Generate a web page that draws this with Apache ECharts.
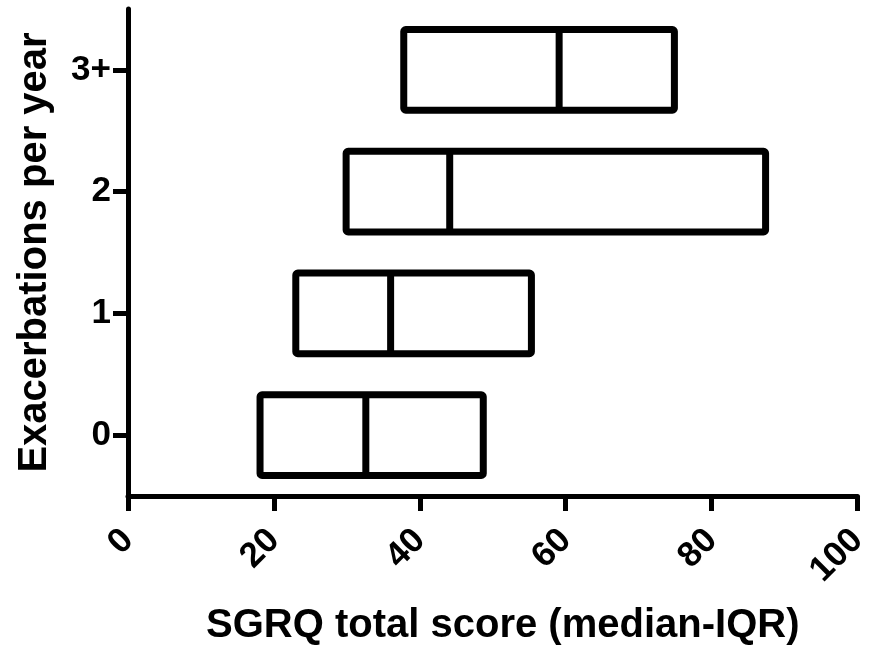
<!DOCTYPE html>
<html>
<head>
<meta charset="utf-8">
<script src="https://cdn.jsdelivr.net/npm/echarts@6/dist/echarts.min.js"></script>
<style>
html,body{margin:0;padding:0;background:#fff;}
#chart{width:872px;height:655px;}
</style>
</head>
<body>
<div id="chart"></div>
<script>
var categories = ['0', '1', '2', '3+'];
var q1Values = [18.1, 23.0, 29.9, 37.8];
var medianValues = [32.6, 36.0, 44.1, 59.1];
var q3Values = [48.7, 55.3, 87.4, 74.9];
var xTicks = [0, 20, 40, 60, 80, 100];

var boxData = categories.map(function (c, i) {
  return [i, q1Values[i], medianValues[i], q3Values[i]];
});

var FONT = '"Liberation Sans", Arial, sans-serif';
var chart = echarts.init(document.getElementById('chart'), null, {renderer: 'canvas'});

chart.setOption({
  animation: false,
  backgroundColor: '#fff',
  grid: {left: 128, right: 11, top: 9, bottom: 159, containLabel: false},
  xAxis: {
    type: 'value',
    min: xTicks[0],
    max: xTicks[xTicks.length - 1],
    interval: 20,
    name: 'SGRQ total score (median-IQR)',
    nameLocation: 'middle',
    nameGap: 110,
    nameTextStyle: {fontFamily: FONT, fontWeight: 'bold', fontSize: 40, color: '#000', padding: [0, 0, 0, 20]},
    axisLine: {show: true, lineStyle: {color: '#000', width: 5}},
    axisTick: {show: true, length: 15, lineStyle: {color: '#000', width: 5}},
    axisLabel: {rotate: 45, margin: 39, fontFamily: FONT, fontWeight: 'bold', fontSize: 35, color: '#000'},
    splitLine: {show: false}
  },
  yAxis: {
    type: 'category',
    data: categories,
    boundaryGap: true,
    name: 'Exacerbations per year',
    nameLocation: 'middle',
    nameGap: 73,
    nameRotate: 90,
    nameTextStyle: {fontFamily: FONT, fontWeight: 'bold', fontSize: 40, color: '#000'},
    axisLine: {show: true, lineStyle: {color: '#000', width: 5}},
    axisTick: {show: true, alignWithLabel: true, length: 15, lineStyle: {color: '#000', width: 5}},
    axisLabel: {margin: 17, fontFamily: FONT, fontWeight: 'bold', fontSize: 35, color: '#000'},
    splitLine: {show: false}
  },
  series: [{
    type: 'custom',
    data: boxData,
    encode: {x: [1, 2, 3], y: 0},
    renderItem: function (params, api) {
      var ci = api.value(0);
      var pL = api.coord([api.value(1), ci]);
      var pM = api.coord([api.value(2), ci]);
      var pR = api.coord([api.value(3), ci]);
      var band = api.size([0, 1])[1];
      var h = band * 0.663;
      var top = pL[1] - h / 2;
      var style = {stroke: '#000', lineWidth: 7, lineJoin: 'round', lineCap: 'butt'};
      return {
        type: 'group',
        children: [
          {type: 'rect', shape: {x: pL[0], y: top, width: pR[0] - pL[0], height: h, r: 2},
           style: Object.assign({fill: '#fff'}, style)},
          {type: 'line', shape: {x1: pM[0], y1: top, x2: pM[0], y2: top + h},
           style: {stroke: '#000', lineWidth: 7}}
        ]
      };
    }
  }]
});
</script>
</body>
</html>
